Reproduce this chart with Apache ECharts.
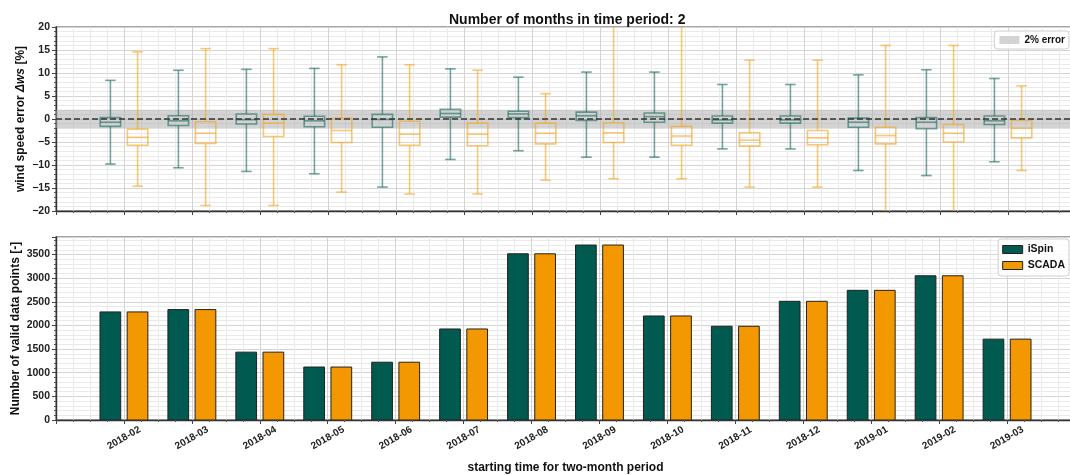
<!DOCTYPE html>
<html><head><meta charset="utf-8">
<script src="https://cdn.jsdelivr.net/npm/echarts@6/dist/echarts.min.js"></script>
<style>html,body{margin:0;padding:0;background:#fff}#c{width:1070px;height:475px}</style>
</head><body><div id="c"></div>
<script>
// ---------- data ----------
const categories = ['2018-02','2018-03','2018-04','2018-05','2018-06','2018-07','2018-08','2018-09','2018-10','2018-11','2018-12','2019-01','2019-02','2019-03'];
// box stats per period: [whisker low, Q1, median, Q3, whisker high]  (wind speed error, %)
const ispinBox = [
  [-9.8, -1.6, -0.7, 0.3, 8.4],
  [-10.6, -1.4, -0.4, 0.7, 10.6],
  [-11.4, -1.1, -0.15, 1.1, 10.8],
  [-11.9, -1.7, -0.4, 0.6, 11.0],
  [-14.8, -1.8, -0.1, 1.0, 13.5],
  [-8.8, 0.4, 1.2, 2.1, 10.9],
  [-6.9, 0.3, 1.1, 1.7, 9.1],
  [-8.3, -0.3, 0.7, 1.5, 10.2],
  [-8.3, -0.7, 0.5, 1.3, 10.2],
  [-6.5, -0.9, -0.2, 0.65, 7.5],
  [-6.5, -0.9, -0.2, 0.65, 7.5],
  [-11.2, -1.8, -0.7, 0.2, 9.6],
  [-12.3, -2.1, -0.7, 0.3, 10.7],
  [-9.3, -1.2, -0.4, 0.65, 8.8]
];
const scadaBox = [
  [-14.6, -5.7, -4.0, -2.2, 14.6],
  [-18.8, -5.3, -3.1, -0.6, 15.3],
  [-18.8, -3.8, -0.9, 1.0, 15.3],
  [-15.9, -5.1, -2.5, 0.2, 11.8],
  [-16.3, -5.7, -3.3, -0.5, 11.8],
  [-16.3, -5.8, -3.3, -0.9, 10.6],
  [-13.3, -5.4, -3.1, -0.9, 5.5],
  [-13.0, -5.1, -3.0, -0.8, 24.0],
  [-13.0, -5.7, -3.7, -1.6, 24.0],
  [-14.8, -5.9, -4.6, -3.0, 12.8],
  [-14.8, -5.6, -4.1, -2.5, 12.8],
  [-24.0, -5.4, -3.6, -1.8, 16.0],
  [-24.0, -5.0, -3.1, -1.2, 16.0],
  [-11.2, -4.1, -2.0, -0.3, 7.2]
];
// number of valid data points
const ispinCount = [2285, 2335, 1435, 1120, 1222, 1925, 3515, 3700, 2200, 1982, 2510, 2742, 3050, 1710];
const scadaCount = [2285, 2335, 1435, 1120, 1222, 1925, 3515, 3700, 2200, 1982, 2510, 2742, 3050, 1710];
const errorBand = 2;   // +-2 % error band
const zeroLevel = 0;

// ---------- styling ----------
const FONT = "'Liberation Sans', Arial, Helvetica, sans-serif";
const GREEN = '#005a4f', ORANGE = '#f39800';
const BOX_GREEN = '#1f6e63', BOX_ORANGE = '#f5a623';
const BOX_W = 0.30, CAP_W = 0.155, BAR_W = 0.305, OFF = 0.2;

// top panel x-coordinate: orange boxes at integer positions (ticks there)
const ispinBoxData = ispinBox.map((b, i) => [i - 2 * OFF].concat(b));
const scadaBoxData = scadaBox.map((b, i) => [i].concat(b));
const ispinBarData = ispinCount.map((v, i) => [i - OFF, v]);
const scadaBarData = scadaCount.map((v, i) => [i + OFF, v]);

function boxRender(color) {
  return function (params, api) {
    const x = api.value(0), lo = api.value(1), q1 = api.value(2), md = api.value(3), q3 = api.value(4), hi = api.value(5);
    const L = api.coord([x - BOX_W / 2, q3]), R = api.coord([x + BOX_W / 2, q1]);
    const cx = api.coord([x, 0])[0];
    const cl = api.coord([x - CAP_W / 2, 0])[0], cr = api.coord([x + CAP_W / 2, 0])[0];
    const yLo = api.coord([x, lo])[1], yHi = api.coord([x, hi])[1], yMd = api.coord([x, md])[1];
    const st = { stroke: color, lineWidth: 1.6, fill: null, opacity: 0.62 };
    const ln = (x1, y1, x2, y2) => ({ type: 'line', shape: { x1, y1, x2, y2 }, style: st });
    return { type: 'group', children: [
      ln(cx, yHi, cx, L[1]), ln(cx, R[1], cx, yLo),
      ln(cl, yHi, cr, yHi), ln(cl, yLo, cr, yLo),
      { type: 'rect', shape: { x: L[0], y: L[1], width: R[0] - L[0], height: R[1] - L[1] }, style: st },
      ln(L[0], yMd, R[0], yMd)
    ]};
  };
}
function barRender(params, api) {
  const x = api.value(0), v = api.value(1);
  const p0 = api.coord([x - BAR_W / 2, v]), p1 = api.coord([x + BAR_W / 2, 0]);
  return { type: 'rect', shape: { x: p0[0], y: p0[1], width: p1[0] - p0[0], height: p1[1] - p0[1] },
    style: { fill: api.visual('color'), stroke: '#222', lineWidth: 1 } };
}

const axisTxt = { color: '#222', fontFamily: FONT, fontWeight: 'bold' };
const xCommon = {
  type: 'value', interval: 1,
  axisLine: { show: true, onZero: false, lineStyle: { color: '#333', width: 1.4 } },
  axisTick: { show: true, length: 4, lineStyle: { color: '#444' } },
  minorTick: { show: true, splitNumber: 4, length: 2, lineStyle: { color: '#555' } },
  splitLine: { show: true, lineStyle: { color: '#d4d4d4', width: 1 } },
  minorSplitLine: { show: true, lineStyle: { color: '#eaeaea', width: 1 } }
};
const yCommon = {
  type: 'value',
  axisLine: { show: true, onZero: false, lineStyle: { color: '#333', width: 1.4 } },
  axisTick: { show: true, length: 4, lineStyle: { color: '#444' } },
  minorTick: { show: true, splitNumber: 5, length: 2, lineStyle: { color: '#555' } },
  splitLine: { show: true, lineStyle: { color: '#d4d4d4', width: 1 } },
  minorSplitLine: { show: true, lineStyle: { color: '#eaeaea', width: 1 } },
  nameLocation: 'middle', nameRotate: 90, nameMoveOverlap: false,
  nameTextStyle: { color: '#111', fontFamily: FONT, fontWeight: 'bold', fontSize: 12 }
};

const option = {
  animation: false,
  backgroundColor: '#fff',
  title: { text: 'Number of months in time period: 2', left: 444, top: 8,
    textStyle: { color: '#111', fontFamily: FONT, fontWeight: 'bold', fontSize: 14 } },
  grid: [
    { left: 56, top: 27, width: 1020, height: 184, show: true, borderColor: '#888', borderWidth: 1.4, backgroundColor: 'transparent', outerBoundsMode: 'none', containLabel: false },
    { left: 56, top: 237, width: 1019, height: 183, show: true, borderColor: '#888', borderWidth: 1.4, backgroundColor: 'transparent', outerBoundsMode: 'none', containLabel: false }
  ],
  xAxis: [
    Object.assign({}, xCommon, { gridIndex: 0, min: -1.2, max: 13.8, axisLabel: { show: false } }),
    Object.assign({}, xCommon, { gridIndex: 1, min: -1, max: 14,
      name: 'starting time for two-month period', nameLocation: 'middle', nameGap: 42, nameMoveOverlap: false,
      nameTextStyle: { color: '#111', fontFamily: FONT, fontWeight: 'bold', fontSize: 12 },
      axisLabel: Object.assign({}, axisTxt, { fontSize: 10, rotate: 30, align: 'center', verticalAlign: 'middle', margin: 18,
        formatter: v => categories[Math.round(v)] !== undefined && Math.abs(v - Math.round(v)) < 1e-6 ? categories[Math.round(v)] : '' }) })
  ],
  yAxis: [
    Object.assign({}, yCommon, { gridIndex: 0, min: -20, max: 20, interval: 5,
      name: '{n|wind speed error }{i|Δws}{n| [%]}', nameGap: 29,
      nameTextStyle: { color: '#111', fontFamily: FONT, fontWeight: 'bold', fontSize: 12,
        rich: { n: { fontFamily: FONT, fontWeight: 'bold', fontSize: 12, color: '#111' },
                i: { fontFamily: FONT, fontWeight: 'bold', fontStyle: 'italic', fontSize: 12, color: '#111' } } },
      axisLabel: Object.assign({}, axisTxt, { fontSize: 10.5, margin: 6, formatter: v => String(v).replace('-', '\u2212') }) }),
    Object.assign({}, yCommon, { gridIndex: 1, min: 0, max: 3870, interval: 500,
      name: 'Number of valid data points [-]', nameGap: 34,
      axisLabel: Object.assign({}, axisTxt, { fontSize: 10.5, margin: 6, showMaxLabel: false, formatter: v => String(v) }) })
  ],
  legend: [
    { top: 31, right: 1, orient: 'vertical', itemWidth: 20, itemHeight: 8, padding: [4, 4, 4, 5],
      borderColor: '#cfcfcf', borderWidth: 1, borderRadius: 3, backgroundColor: 'rgba(255,255,255,0.85)',
      textStyle: { color: '#111', fontFamily: FONT, fontWeight: 'bold', fontSize: 10 },
      data: [{ name: '2% error', icon: 'rect', itemStyle: { color: '#d3d3d3', borderWidth: 0 } }] },
    { top: 239, right: 1, orient: 'vertical', itemWidth: 20, itemHeight: 8, itemGap: 5, padding: [5, 4, 5, 4],
      borderColor: '#cfcfcf', borderWidth: 1, borderRadius: 3, backgroundColor: 'rgba(255,255,255,0.85)',
      textStyle: { color: '#111', fontFamily: FONT, fontWeight: 'bold', fontSize: 10.5 },
      data: [
        { name: 'iSpin', icon: 'rect', itemStyle: { color: GREEN, borderColor: '#222', borderWidth: 1 } },
        { name: 'SCADA', icon: 'rect', itemStyle: { color: ORANGE, borderColor: '#222', borderWidth: 1 } }
      ] }
  ],
  series: [
    { name: '2% error', type: 'custom', xAxisIndex: 0, yAxisIndex: 0, z: 1, silent: true,
      itemStyle: { color: '#d3d3d3' }, data: [[errorBand]],
      renderItem: (params, api) => {
        const cs = params.coordSys, b = api.value(0);
        const y1 = api.coord([0, b])[1], y2 = api.coord([0, -b])[1];
        return { type: 'rect', shape: { x: cs.x, y: y1, width: cs.width, height: y2 - y1 }, style: { fill: 'rgba(168,168,168,0.5)' } };
      } },
    { name: 'iSpinBox', type: 'custom', xAxisIndex: 0, yAxisIndex: 0, z: 3, clip: true,
      encode: { x: 0, y: [1, 2, 3, 4, 5] }, data: ispinBoxData, renderItem: boxRender(BOX_GREEN) },
    { name: 'SCADABox', type: 'custom', xAxisIndex: 0, yAxisIndex: 0, z: 3, clip: true,
      encode: { x: 0, y: [1, 2, 3, 4, 5] }, data: scadaBoxData, renderItem: boxRender(BOX_ORANGE) },
    { name: 'zero', type: 'custom', xAxisIndex: 0, yAxisIndex: 0, z: 5, silent: true, data: [[zeroLevel]],
      renderItem: (params, api) => {
        const cs = params.coordSys, y = api.coord([0, api.value(0)])[1];
        return { type: 'line', shape: { x1: cs.x, y1: y, x2: cs.x + cs.width, y2: y },
          style: { stroke: '#333', lineWidth: 1.5, lineDash: [6, 3] } };
      } },
    { name: 'iSpin', type: 'custom', xAxisIndex: 1, yAxisIndex: 1, z: 3, clip: true,
      itemStyle: { color: GREEN }, encode: { x: 0, y: 1 }, data: ispinBarData, renderItem: barRender },
    { name: 'SCADA', type: 'custom', xAxisIndex: 1, yAxisIndex: 1, z: 3, clip: true,
      itemStyle: { color: ORANGE }, encode: { x: 0, y: 1 }, data: scadaBarData, renderItem: barRender }
  ]
};
const chart = echarts.init(document.getElementById('c'));
chart.setOption(option);
</script></body></html>
